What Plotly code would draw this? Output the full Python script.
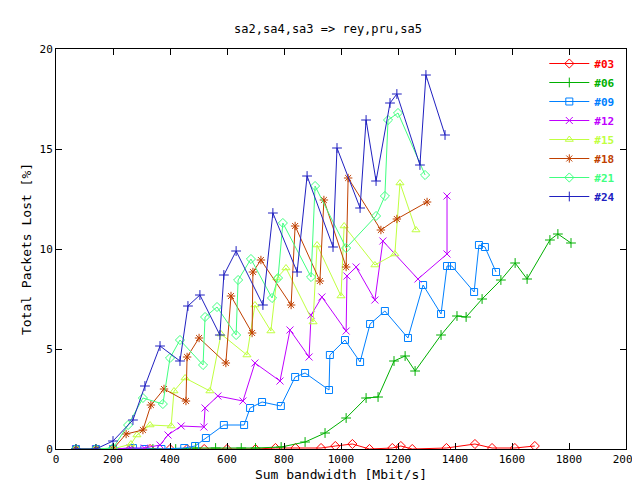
import plotly.graph_objects as go

# series values: bandwidth [Mbit/s] and loss [%]
x03 = [70, 140, 200, 260, 330, 400, 460, 520, 600, 700, 770, 840, 930, 980, 1040, 1100, 1180, 1210, 1250, 1370, 1470, 1530, 1610, 1680]
y03 = [0, 0, 0, 0, 0, 0, 0, 0, 0, 0, 0.05, 0.05, 0.05, 0.15, 0.25, 0, 0.05, 0.15, 0, 0.05, 0.25, 0.05, 0.05, 0.15]
x06 = [70, 140, 200, 270, 340, 420, 490, 560, 650, 700, 790, 874, 944, 1018, 1088, 1130, 1186, 1225, 1260, 1351, 1407, 1439, 1495, 1561, 1611, 1653, 1733, 1761, 1807]
y06 = [0, 0, 0, 0, 0, 0, 0.05, 0.05, 0.05, 0.05, 0.1, 0.35, 0.8, 1.55, 2.55, 2.6, 4.4, 4.65, 3.9, 5.7, 6.65, 6.6, 7.5, 8.45, 9.3, 8.5, 10.45, 10.75, 10.3]
x09 = [70, 140, 200, 270, 310, 370, 450, 488, 526, 589, 660, 681, 723, 789, 839, 874, 958, 961, 1014, 1067, 1102, 1154, 1235, 1288, 1351, 1372, 1389, 1467, 1484, 1505, 1544]
y09 = [0, 0, 0, 0.05, 0, 0, 0.05, 0.15, 0.55, 1.2, 1.2, 2.05, 2.35, 2.15, 3.6, 3.8, 2.95, 4.7, 5.45, 4.35, 6.25, 6.9, 5.55, 8.2, 6.75, 9.15, 9.15, 7.85, 10.2, 10.1, 8.85]
x12 = [70, 140, 200, 260, 310, 365, 393, 439, 519, 523, 568, 656, 698, 786, 821, 888, 895, 933, 1018, 1021, 1053, 1119, 1147, 1270, 1372, 1372]
y12 = [0, 0, 0, 0.05, 0.05, 0.2, 0.7, 1.15, 1.1, 2.05, 2.65, 2.4, 4.3, 3.4, 5.95, 4.6, 6.7, 7.6, 5.9, 8.65, 9.1, 7.45, 10.4, 8.5, 9.75, 12.65]
x15 = [70, 140, 200, 263, 284, 330, 404, 414, 453, 540, 579, 670, 698, 754, 775, 807, 902, 916, 1000, 1011, 1119, 1189, 1207, 1263]
y15 = [0, 0, 0, 0.25, 0.7, 1.2, 1.15, 2.9, 3.55, 2.9, 5.75, 4.7, 7.2, 5.9, 8.55, 9.05, 6.35, 10.2, 7.65, 11.15, 9.2, 9.75, 13.3, 10.95]
x18 = [70, 140, 200, 246, 305, 333, 379, 456, 460, 502, 596, 614, 688, 691, 719, 825, 839, 926, 940, 1018, 1025, 1140, 1196, 1302]
y18 = [0, 0, 0, 0.75, 0.95, 2.2, 3.0, 2.4, 4.6, 5.55, 4.3, 7.65, 5.8, 8.85, 9.45, 7.2, 11.15, 8.4, 12.45, 9.1, 13.55, 10.95, 11.5, 12.35]
x21 = [70, 140, 200, 253, 305, 375, 400, 435, 516, 523, 565, 632, 639, 684, 758, 779, 796, 895, 909, 1018, 1123, 1154, 1165, 1200, 1295]
y21 = [0, 0, 0.05, 1.2, 2.55, 2.25, 4.55, 5.45, 4.2, 6.6, 7.1, 5.7, 8.45, 9.5, 7.55, 8.55, 11.3, 8.6, 13.15, 10.05, 11.65, 12.65, 16.45, 16.8, 13.7]
x24 = [70, 140, 200, 270, 312, 365, 435, 463, 505, 575, 589, 632, 726, 761, 846, 881, 972, 986, 1067, 1088, 1123, 1172, 1196, 1277, 1298, 1365]
y24 = [0, 0, 0.4, 1.45, 3.15, 5.15, 4.4, 7.15, 7.7, 5.7, 8.7, 9.9, 7.2, 11.8, 8.85, 13.65, 10.1, 15.05, 12.05, 16.45, 13.4, 17.3, 17.75, 14.2, 18.7, 15.7]

series = [
    ("#03", x03, y03, "#ff0000", "diamond-open"),
    ("#06", x06, y06, "#00b000", "cross-thin-open"),
    ("#09", x09, y09, "#0080ff", "square-open"),
    ("#12", x12, y12, "#c000ff", "x-thin-open"),
    ("#15", x15, y15, "#c0ff40", "triangle-up-open"),
    ("#18", x18, y18, "#c04000", "asterisk-open"),
    ("#21", x21, y21, "#40ff80", "diamond-open"),
    ("#24", x24, y24, "#2020c0", "cross-thin-open"),
]

fig = go.Figure()
for name, xs, ys, col, sym in series:
    fig.add_trace(go.Scatter(
        x=xs, y=ys, mode="lines+markers",
        name="<b><span style='color:%s'>%s</span></b>" % (col, name),
        line=dict(color=col, width=1),
        marker=dict(symbol=sym, size=7, color=col, line=dict(color=col, width=1)),
    ))

axis = dict(showgrid=False, zeroline=False, showline=True, mirror="ticks",
            linecolor="black", linewidth=1, ticks="inside", ticklen=6,
            tickcolor="black", tickfont=dict(size=11), automargin=False)
fig.update_layout(
    width=640, height=480,
    title=dict(text="sa2,sa4,sa3 => rey,pru,sa5", x=0.5, y=0.965, font=dict(size=12)),
    font=dict(family="DejaVu Sans Mono", color="black", size=11),
    plot_bgcolor="white", paper_bgcolor="white",
    margin=dict(l=48, r=22, t=41, b=39),
    xaxis=dict(axis, range=[0, 2000], dtick=200, title=dict(text="Sum bandwidth [Mbit/s]", standoff=4)),
    yaxis=dict(axis, range=[0, 20], dtick=5, title=dict(text="Total Packets Lost [%]", standoff=4)),
    legend=dict(x=0.99, y=1, xanchor="right", yanchor="top", bgcolor="rgba(0,0,0,0)",
                font=dict(size=11), tracegroupgap=0, itemwidth=40),
)
fig.write_html("out.html")
